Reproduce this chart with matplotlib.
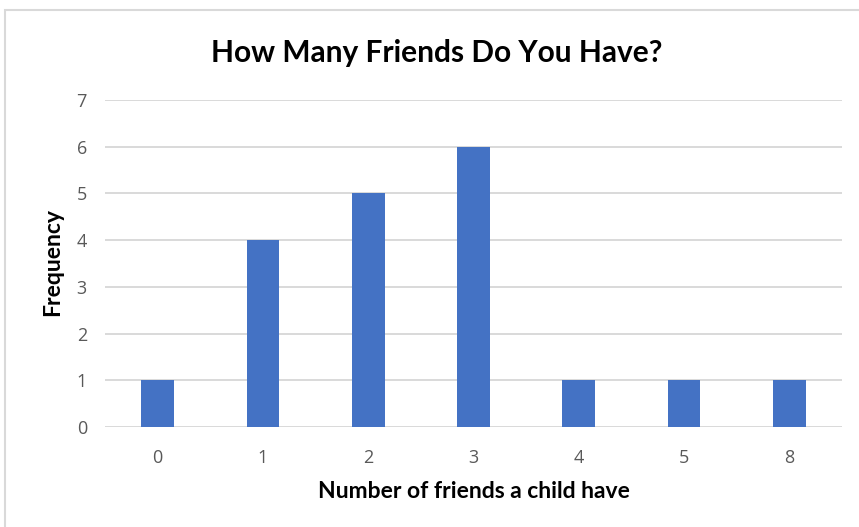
import matplotlib
matplotlib.use("Agg")
import matplotlib.pyplot as plt
from matplotlib.patches import Rectangle

# Survey results: number of friends per child and how many children gave each answer
friend_counts = ["0", "1", "2", "3", "4", "5", "8"]
frequency = [1, 4, 5, 6, 1, 1, 1]
y_ticks = [0, 1, 2, 3, 4, 5, 6, 7]

W, H = 859, 527
fig = plt.figure(figsize=(W / 100, H / 100), dpi=100)
fig.patch.set_facecolor("white")

# Light grey chart frame
fig.patches.append(Rectangle((5 / W, -0.05), 1.1, (H - 10) / H + 0.05,
                             transform=fig.transFigure, fill=False,
                             edgecolor="#d9d9d9", linewidth=1.5))

ax = fig.add_axes([105 / W, (H - 427) / H, 737 / W, 327 / H])
x = range(len(friend_counts))
ax.bar(x, frequency, width=0.31, color="#4472C4", zorder=3)

ax.set_xlim(-0.5, len(friend_counts) - 0.5)
ax.set_ylim(0, 7)
ax.set_yticks(y_ticks)
ax.set_xticks(list(x))
ax.set_xticklabels(friend_counts)

ax.yaxis.grid(True, color="#d9d9d9", linewidth=1.4, zorder=0)
ax.set_axisbelow(True)
for side in ["top", "right", "left", "bottom"]:
    ax.spines[side].set_visible(False)
ax.tick_params(axis="both", length=0, labelsize=13, labelcolor="#595959")
ax.tick_params(axis="y", pad=13)
ax.tick_params(axis="x", pad=16)
for lbl in ax.get_xticklabels() + ax.get_yticklabels():
    lbl.set_family("Open Sans")

fig.text(437 / W, 1 - 53 / H, "How Many Friends Do You Have?", ha="center", va="center",
         fontsize=21.5, fontweight="bold", family="Lato", color="black")
fig.text(474 / W, 1 - 492 / H, "Number of friends a child have", ha="center", va="center",
         fontsize=16.5, fontweight="bold", family="Lato", color="black")
fig.text(53 / W, 1 - 262 / H, "Frequency", ha="center", va="center", rotation=90,
         fontsize=16.5, fontweight="bold", family="Lato", color="black")

fig.savefig("out.png", dpi=100)
